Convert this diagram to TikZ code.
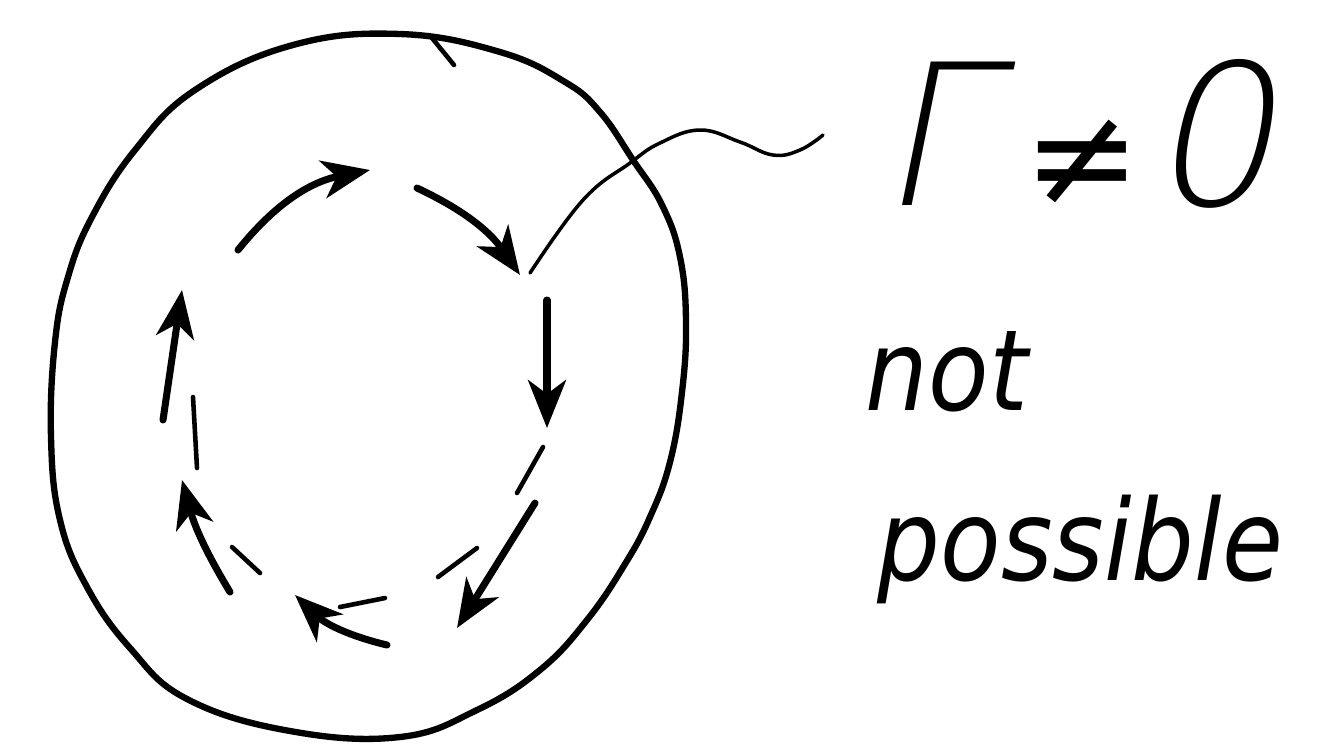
\documentclass[tikz,border=0pt]{standalone}
\usepackage{fontspec}
\setmainfont{DejaVu Sans}
\newfontfamily\hand[FakeStretch=0.88]{DejaVu Sans}
\newfontfamily\thin[FakeSlant=0.2]{DejaVu Sans ExtraLight}
\usetikzlibrary{arrows.meta, positioning}

\begin{document}
\begin{tikzpicture}[>={Stealth[length=4.8mm, width=3.8mm, inset=1.4mm]}, line cap=round,
  rim/.style={line width=1.8pt},
  flow/.style={->, line width=2pt},
  seg/.style={line width=1.3pt},
  lead/.style={line width=1pt},
  lbl/.style={anchor=base west, inner sep=0pt, font=\hand\itshape\fontsize{32}{36}\selectfont}]
\useasboundingbox (0,0) rectangle (13.26,7.52);
% outer loop, freehand
\draw[rim] plot[smooth cycle, tension=0.7] coordinates {
  (4.00,7.18) (5.00,7.00) (5.65,6.70) (6.00,6.40) (6.33,5.92) (6.62,5.47) (6.80,4.95)
  (6.86,4.30) (6.82,3.60) (6.70,2.90) (6.50,2.35) (6.25,1.88) (5.87,1.32) (5.40,0.82)
  (4.77,0.42) (4.00,0.15) (2.90,0.21) (1.87,0.53) (1.30,1.04) (0.87,1.65) (0.60,2.32)
  (0.51,3.15) (0.55,4.10) (0.68,4.75) (0.92,5.35) (1.35,6.02) (1.95,6.62) (2.93,7.07)};
\draw[seg] (4.32,7.14) -- (4.54,6.87);
% inner circulation: arrows, with dashes between them
\foreach \xa/\ya/\xb/\yb/\c in {2.38/5.02/3.70/5.82/20, 4.17/5.64/5.20/4.77/15,
    5.47/4.52/5.47/3.24/0, 5.35/2.49/4.57/1.24/0, 3.87/1.07/2.95/1.57/15,
    2.30/1.60/1.82/2.72/8, 1.63/3.32/1.82/4.62/0}
  \draw[flow] (\xa,\ya) to[bend left=\c] (\xb,\yb);
\foreach \xa/\ya/\xb/\yb in {5.43/3.05/5.17/2.59, 4.77/2.04/4.38/1.75, 3.85/1.54/3.40/1.45,
    2.60/1.79/2.32/2.05, 1.97/2.84/1.93/3.55}
  \draw[seg] (\xa,\ya) -- (\xb,\yb);
% label and its wavy lead
\node[lbl, font=\thin\fontsize{56}{60}\selectfont] (gam) at (8.78,5.47)
  {Γ\kern10pt{\normalfont\itshape\fontsize{40}{44}\selectfont≠}\kern2pt 0};
\node[lbl] (nt) at (8.65,3.42) {not};
\node[lbl] (ps) at (8.77,1.72) {possible};
\coordinate (src) at (5.30,4.79);
\coordinate (tail) at (8.23,6.17);
\draw[lead] plot[smooth, tension=0.7] coordinates {(src) (5.83,5.52) (6.30,5.89) (6.60,6.09)
  (7.00,6.22) (7.40,6.10) (7.73,5.97) (8.00,6.02) (tail)};
\end{tikzpicture}
\end{document}
